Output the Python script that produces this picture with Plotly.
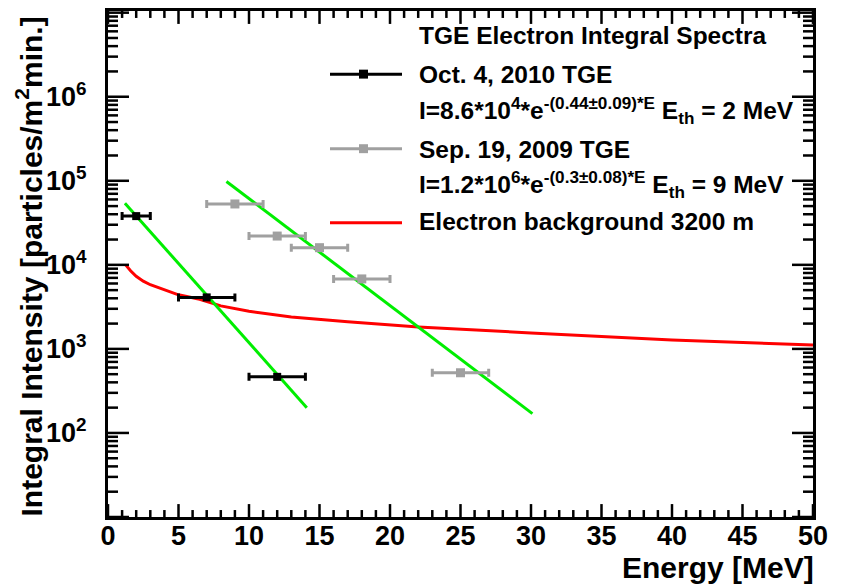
import math
import plotly.graph_objects as go

# ---- data ----
oct_E = [2, 7, 12]
oct_dE = [1, 2, 2]
oct_I = [3.8e4, 4.1e3, 4.65e2]

sep_E = [9, 12, 15, 18, 25]
sep_dE = [2, 2, 2, 2, 2]
sep_I = [5.3e4, 2.2e4, 1.6e4, 6.8e3, 5.2e2]

fit_oct_E = [1.2, 14.1]
fit_oct_I = [5.4e4, 2.0e2]

fit_sep_E = [8.4, 30.1]
fit_sep_I = [9.8e4, 1.7e2]

bg_E = [1.25, 1.6, 2, 2.5, 3, 4, 5, 6.5, 8, 10, 13, 17, 22, 30, 40, 50]
bg_I = [1.0e4, 8500, 7300, 6400, 5800, 5000, 4400, 3900, 3250, 2800, 2400, 2100, 1820, 1550, 1280, 1110]

y_tick_vals = [1e2, 1e3, 1e4, 1e5, 1e6]
y_tick_text = ["10<sup>2</sup>", "10<sup>3</sup>", "10<sup>4</sup>", "10<sup>5</sup>", "10<sup>6</sup>"]
x_tick_vals = [0, 5, 10, 15, 20, 25, 30, 35, 40, 45, 50]

X_RANGE = [0, 50]
Y_RANGE = [1, 7.02]   # log10

FONT = "Liberation Sans, Arial, sans-serif"
BLACK = "#000000"
GRAY = "#a0a0a0"
GREEN = "#00ee00"
RED = "#ff0000"

fig = go.Figure()

fig.add_trace(go.Scatter(x=bg_E, y=bg_I, mode="lines",
                         line=dict(color=RED, width=3), showlegend=False))
fig.add_trace(go.Scatter(x=fit_oct_E, y=fit_oct_I, mode="lines",
                         line=dict(color=GREEN, width=3), showlegend=False))
fig.add_trace(go.Scatter(x=fit_sep_E, y=fit_sep_I, mode="lines",
                         line=dict(color=GREEN, width=3), showlegend=False))
fig.add_trace(go.Scatter(x=sep_E, y=sep_I, mode="markers",
                         marker=dict(symbol="square", size=9, color=GRAY),
                         error_x=dict(type="data", array=sep_dE, color=GRAY, thickness=3, width=4),
                         showlegend=False))
fig.add_trace(go.Scatter(x=oct_E, y=oct_I, mode="markers",
                         marker=dict(symbol="square", size=8, color=BLACK),
                         error_x=dict(type="data", array=oct_dE, color=BLACK, thickness=3, width=4),
                         showlegend=False))

# geometry helpers (pixel -> paper)
L, R, T, B = 108, 813, 8, 517
W, H = R - L, B - T
def px(x):
    return (x - L) / W
def py(y):
    return (B - y) / H

shapes = []
annotations = []

# ---- ROOT-style inside ticks on all four sides ----
def xpaper(v):
    return (v - X_RANGE[0]) / (X_RANGE[1] - X_RANGE[0])
def ypaper(v):
    return (math.log10(v) - Y_RANGE[0]) / (Y_RANGE[1] - Y_RANGE[0])

TW = 2.5
for v in range(X_RANGE[0], X_RANGE[1] + 1):
    ln = 13 if v % 5 == 0 else 7
    xp = xpaper(v)
    shapes.append(dict(type="line", xref="paper", yref="paper", x0=xp, x1=xp,
                       y0=0, y1=ln / H, line=dict(color="black", width=TW)))
    shapes.append(dict(type="line", xref="paper", yref="paper", x0=xp, x1=xp,
                       y0=1, y1=1 - ln / H, line=dict(color="black", width=TW)))
for d in range(1, 8):
    for m in range(1, 10):
        v = m * 10 ** d
        yp = ypaper(v)
        if yp > 1.0001:
            continue
        ln = 21 if m == 1 else 10
        shapes.append(dict(type="line", xref="paper", yref="paper", x0=0, x1=ln / W,
                           y0=yp, y1=yp, line=dict(color="black", width=TW)))
        shapes.append(dict(type="line", xref="paper", yref="paper", x0=1, x1=1 - ln / W,
                           y0=yp, y1=yp, line=dict(color="black", width=TW)))

# ---- hand-built legend ----
def legend_line(y, color, marker):
    shapes.append(dict(type="line", xref="paper", yref="paper",
                       x0=px(330), x1=px(402), y0=py(y), y1=py(y),
                       line=dict(color=color, width=3)))
    if marker:
        shapes.append(dict(type="rect", xref="paper", yref="paper",
                           x0=px(359), x1=px(368), y0=py(y - 4.5), y1=py(y + 4.5),
                           fillcolor=color, line=dict(width=0)))

legend_line(71.5, BLACK, True)
legend_line(146.5, GRAY, True)
legend_line(221, RED, False)

def legend_text(y, text):
    annotations.append(dict(xref="paper", yref="paper", x=px(417), y=py(y),
                            xanchor="left", yanchor="middle", showarrow=False,
                            text=text, font=dict(family=FONT, size=24.5, color="black", weight="bold")))

legend_text(33, "TGE Electron Integral Spectra")
legend_text(72, "Oct. 4, 2010 TGE")
legend_text(108, "I=8.6*10<sup>4</sup>*e<sup>-(0.44±0.09)*E</sup> E<sub>th</sub> = 2 MeV")
legend_text(147, "Sep. 19, 2009 TGE")
legend_text(183, "I=1.2*10<sup>6</sup>*e<sup>-(0.3±0.08)*E</sup> E<sub>th</sub> = 9 MeV")
legend_text(220, "Electron background 3200 m")

# axis titles
annotations.append(dict(xref="paper", yref="paper", x=px(816), y=py(568),
                        xanchor="right", yanchor="middle", showarrow=False,
                        text="Energy [MeV]",
                        font=dict(family=FONT, size=30, color="black", weight="bold")))
annotations.append(dict(xref="paper", yref="paper", x=px(30), y=py(265),
                        xanchor="center", yanchor="middle", showarrow=False, textangle=-90,
                        text="Integral Intensity [particles/m<sup>2</sup>min.]",
                        font=dict(family=FONT, size=30, color="black", weight="bold")))

fig.update_layout(
    width=850, height=584,
    margin=dict(l=L, r=850 - R, t=T, b=584 - B),
    paper_bgcolor="white", plot_bgcolor="white",
    font=dict(family=FONT, color="black"),
    shapes=shapes, annotations=annotations,
    showlegend=False,
    xaxis=dict(range=X_RANGE, showgrid=False, zeroline=False,
               showline=True, linecolor="black", linewidth=3, mirror=True,
               ticks="", tickmode="array", tickvals=x_tick_vals,
               tickfont=dict(family=FONT, size=27, color="black", weight="bold"),
               ticklabelstandoff=-7),
    yaxis=dict(type="log", range=Y_RANGE, showgrid=False, zeroline=False,
               showline=True, linecolor="black", linewidth=3, mirror=True,
               ticks="", tickmode="array", tickvals=y_tick_vals, ticktext=y_tick_text,
               tickfont=dict(family=FONT, size=27, color="black", weight="bold"),
               ticklabelstandoff=13),
)

fig.write_html("out.html")
